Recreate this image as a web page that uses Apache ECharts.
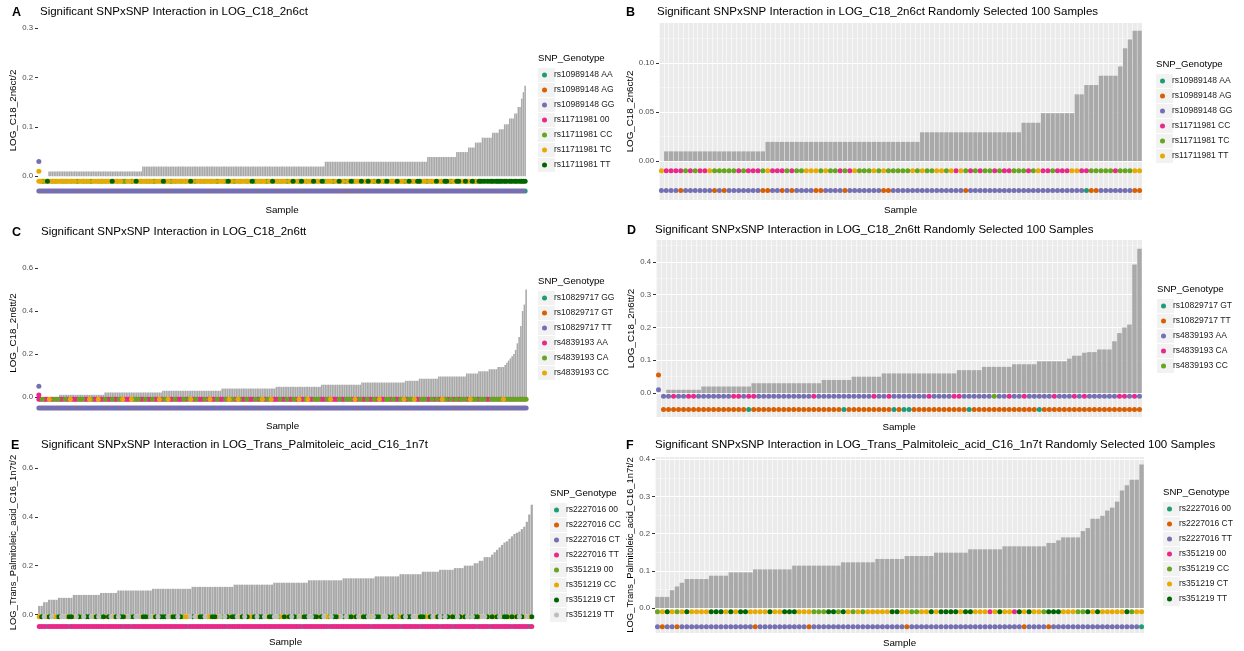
<!DOCTYPE html>
<html><head><meta charset="utf-8">
<script src="https://cdn.jsdelivr.net/npm/echarts@6/dist/echarts.min.js"></script>
<style>html,body{margin:0;padding:0;background:#fff}#c{width:1244px;height:651px}</style>
</head><body><div id="c"></div><script>
// ---------------- DATA ----------------
// Panel A
const aLegend = ['rs10989148 AA','rs10989148 AG','rs10989148 GG','rs11711981 00','rs11711981 CC','rs11711981 TC','rs11711981 TT'];
const aRuns = [[0,6],[0.0098,55],[0.0195,107],[0.0293,60],[0.039,17],[0.0488,7],[0.058,4],[0.068,4],[0.078,6],[0.088,4],[0.095,3],[0.105,3],[0.117,3],[0.127,2],[0.14,2],[0.157,1],[0.17,1],[0.183,1]];
const aRow1 = ['5544565545','4555454554','5544554545','4455545454','5546554554','4455445655','4554545445','5546455445','4554554556','5445545455',
 '5455445554','4655445545','5545564455','4554455655','4545544556','5544655455','4654556445','5544556554','4556445556','5546554456',
 '5544655455','6455445654','5566455445','4556554566','5445566455','6455644566','4656466466','6646656646','646666'].join('');
const aRow2Base = 2;
const aRow2Except = {1:[2,10,23,31,41,47,75,77,86,100,107,120,128,140,154,177,179,181,183,186,188,200,209,221,236,251,256,262,268,277,282], 0:[57,285]};
const aExtra = [[0,0.03,2],[0,0.01,5]];
// Panel B
const bLegend = ['rs10989148 AA','rs10989148 AG','rs10989148 GG','rs11711981 CC','rs11711981 TC','rs11711981 TT'];
const bRuns = [[0,1],[0.0098,21],[0.0195,32],[0.0293,21],[0.039,4],[0.0488,7],[0.068,2],[0.0775,3],[0.087,4],[0.0965,1],[0.115,1],[0.124,1],[0.133,2]];
const bRow1 = ['5333343433','5444443433','3453334344','5554544343','5444545444','4454544554','5354343443','4334443453','3433355334','4444344455'].join('');
const bRow2Base = 2;
const bRow2Except = {1:[4,11,13,21,22,25,27,32,33,38,46,47,63,89,90,98,99], 0:[88]};
// Panel C
const cLegend = ['rs10829717 GG','rs10829717 GT','rs10829717 TT','rs4839193 AA','rs4839193 CA','rs4839193 CC'];
const cRuns = [[0,12],[0.011,26],[0.022,33],[0.03,34],[0.04,31],[0.048,26],[0.058,23],[0.068,25],[0.076,8],[0.086,11],[0.096,16],[0.11,7],[0.12,6],[0.13,5],[0.14,4],
 [0.15,1],[0.16,1],[0.17,1],[0.18,1],[0.19,1],[0.2,1],[0.22,1],[0.25,1],[0.28,1],[0.33,1],[0.4,1],[0.43,1],[0.5,1]];
const cRow1 = ['3343335334','3433343353','3334343335','4333533343','3343334353','3335343433','3433343335','3343533343','3334334533','4333343353',
 '3343333435','3433543334','3333433453','3435333343','3343334335','3334533343','4333343533','3343334343','3533433343','3343353334',
 '4334333435','3343453334','3433343343','3534334334','3343433543','4334343334','3443435344','3434443434'].join('');
const cRow2Base = 2;
const cRow2Except = {1:[3,10,21,38,52,56,68,75,79,95,112,118,125,134,149,157,170,182,205,212,228,237,239,242,247,250,259,265,271,275]};
const cExtra = [[0,0.051,2],[0,0.01,3]];
// Panel D
const dLegend = ['rs10829717 GT','rs10829717 TT','rs4839193 AA','rs4839193 CA','rs4839193 CC'];
const dRuns = [[0,2],[0.01,7],[0.02,10],[0.03,14],[0.04,6],[0.05,6],[0.06,15],[0.07,5],[0.08,6],[0.088,5],[0.097,6],[0.105,1],[0.114,2],[0.123,1],[0.125,2],[0.133,3],[0.158,1],[0.183,1],[0.2,1],[0.209,1],[0.392,1],[0.44,1]];
const dRow1Base = 2;
const dRow1Except = {3:[3,6,7,15,16,18,19,31,43,46,54,59,60,70,73,79,83,85,92,93,95,99,100], 4:[67]};
const dRow2Base = 1;
const dRow2Except = {0:[18,37,47,49,50,62,76]};
const dExtra = [[0,0.055,1],[0,0.01,2]];
// Panel E
const eLegend = ['rs2227016 00','rs2227016 CC','rs2227016 CT','rs2227016 TT','rs351219 00','rs351219 CC','rs351219 CT','rs351219 TT'];
const eRuns = [[0.035,2],[0.05,2],[0.06,4],[0.068,6],[0.08,11],[0.088,7],[0.098,14],[0.105,16],[0.113,17],[0.122,16],[0.13,14],[0.14,14],[0.148,13],[0.156,10],[0.165,9],[0.175,7],[0.183,6],[0.19,4],[0.2,4],[0.21,2],[0.22,2],[0.235,3],
 [0.245,1],[0.255,1],[0.265,1],[0.275,1],[0.285,1],[0.295,1],[0.3,1],[0.31,1],[0.32,1],[0.33,1],[0.335,1],[0.34,1],[0.35,1],[0.36,1],[0.38,1],[0.41,1],[0.45,1]];
const eRow1 = ['5675675467','7566576476','6756746567','5676657467','7566475676','6675667645','5767566754','6657476566','7567654676','6756677456',
 '5676475667','7665675476','6576746567','5667576647','7656745676','6775664567','5676765647','6567476657','7656567466','5656765756'].join('');
const eRow2Base = 3;
const eRow2Except = {2:[3,12,34,37,60,76,106,117,134,146,154,162,167,177,182,191], 0:[198]};
// Panel F
const fLegend = ['rs2227016 00','rs2227016 CT','rs2227016 TT','rs351219 00','rs351219 CC','rs351219 CT','rs351219 TT'];
const fRuns = [[0.03,3],[0.048,1],[0.058,1],[0.068,1],[0.078,5],[0.087,4],[0.096,5],[0.104,8],[0.114,10],[0.123,7],[0.132,6],[0.14,6],[0.149,7],[0.158,7],[0.166,9],[0.175,2],[0.182,1],[0.19,4],[0.207,1],[0.215,1],[0.24,2],[0.248,1],[0.262,1],[0.27,1],[0.286,1],[0.316,1],[0.33,1],[0.345,2],[0.386,1]];
const fRow1 = ['4565456555','5666565665','5556556665','5544466465','4545555566','5544556566','6656655535','6553656554','6665554465','6555556455'].join('');
const fRow2Base = 2;
const fRow2Except = {1:[1,4,20,31,51,75,80], 0:[99]};

// ---------------- STYLE / BUILD ----------------
const FONT = '"Liberation Sans", Arial, Helvetica, sans-serif';
const TEAL='#1B9E77', ORANGE='#D95F02', PURPLE='#7570B3', PINK='#E7298A', GREEN='#66A61E', YELLOW='#E6AB02', DKGREEN='#006400', LGREY='#BEBEBE';

function expand(runs){const o=[];runs.forEach(r=>{for(let i=0;i<r[1];i++)o.push(r[0]);});return o;}
function strRow(s){return s.split('').map(Number);}
function excRow(n, base, exc){const a=new Array(n).fill(base);Object.keys(exc).forEach(k=>exc[k].forEach(i=>{if(i<n)a[i]=+k;}));return a;}

const option = {animation:false, backgroundColor:'#fff', textStyle:{fontFamily:FONT},
  title:[], legend:[], grid:[], xAxis:[], yAxis:[], series:[]};

function addPanel(p){
  const gi = option.grid.length;
  const values = expand(p.runs);
  const n = values.length;
  option.grid.push({left:p.box[0], top:p.box[1], width:p.box[2]-p.box[0], height:p.box[3]-p.box[1],
    show:p.grey, backgroundColor:'#EBEBEB', borderWidth:0, containLabel:false, outerBoundsMode:'none'});
  const xi = option.xAxis.length;
  option.xAxis.push({type:'category', gridIndex:gi, data:values.map((_,i)=>String(i)), boundaryGap:true,
    axisLine:{show:false,onZero:false}, axisTick:{show:false}, axisLabel:{show:false},
    splitLine:{show:p.grey, interval:0, lineStyle:{color:'#FFFFFF', width:0.6}},
    name:'Sample', nameLocation:'middle', nameGap:p.xNameGap, nameTextStyle:{fontSize:9.8, color:'#000', fontFamily:FONT}});
  const yi = option.yAxis.length;
  option.yAxis.push({type:'value', gridIndex:gi, min:p.ymin, max:p.ymax, position:'left',
    axisLine:{show:false}, axisTick:{show:true, length:3, customValues:p.ticks, lineStyle:{color:'#333333', width:1}},
    axisLabel:{customValues:p.ticks, formatter:v=>Number(v).toFixed(p.dec), fontSize:7.8, color:'#4D4D4D', margin:5, fontFamily:FONT},
    splitLine:{show:p.grey, lineStyle:{color:'#FFFFFF', width:1}},
    name:p.yName, nameLocation:'middle', nameRotate:90, nameGap:p.yNameGap, nameTextStyle:{fontSize:p.yNameSize||9.8, color:'#000', fontFamily:FONT}});
  if (p.minor){
    option.yAxis.push({type:'value', gridIndex:gi, min:p.ymin, max:p.ymax, position:'right',
      axisLine:{show:false}, axisTick:{show:false, customValues:p.minor}, axisLabel:{show:false, customValues:p.minor},
      splitLine:{show:true, lineStyle:{color:'#F7F7F7', width:0.6}}});
  }
  option.series.push({type:'bar', xAxisIndex:xi, yAxisIndex:yi, data:values, barCategoryGap:'10%',
    itemStyle:{color:'#A9A9A9'}, z:2, silent:true});
  const pts = p.legend.map(()=>[]);
  const off = p.rowStart||0;
  p.row1.forEach((k,i)=>{ if(i+off<n) pts[k].push([i+off, p.r1y]); });
  p.row2.forEach((k,i)=>{ if(i+off<n) pts[k].push([i+off, p.r2y]); });
  (p.extra||[]).forEach(e=>pts[e[2]].push([e[0], e[1]]));
  p.legend.forEach((nm,k)=>{
    option.series.push({type:'scatter', name:nm, xAxisIndex:xi, yAxisIndex:yi, data:pts[k], symbol:'circle', symbolSize:5,
      itemStyle:{color:p.colors[k], opacity:1}, z:3, silent:true});
  });
  option.title.push({text:p.letter, left:p.letterPos[0], top:p.letterPos[1], padding:0,
    textStyle:{fontSize:12.5, fontWeight:'bold', color:'#000', fontFamily:FONT}});
  option.title.push({text:p.title, left:p.titlePos[0], top:p.titlePos[1], padding:0,
    textStyle:{fontSize:11.5, fontWeight:'normal', color:'#000', fontFamily:FONT}});
  const T = p.leg[0], L = p.leg[1];
  option.title.push({text:'SNP_Genotype', left:T, top:L-15, padding:0,
    textStyle:{fontSize:9.6, fontWeight:'normal', color:'#000', fontFamily:FONT}});
  option.legend.push({left:T, top:L, orient:'vertical', icon:'rect', itemWidth:17, itemHeight:14, itemGap:1, padding:0,
    selectedMode:false, itemStyle:{color:'#F2F2F2', borderWidth:0},
    textStyle:{color:'rgba(0,0,0,0)', fontSize:8.5, lineHeight:14}, data:p.legend.slice()});
  option.legend.push({left:T+4, top:L-0.5, orient:'vertical', icon:'circle', itemWidth:9, itemHeight:5, itemGap:0, padding:0,
    selectedMode:false, textStyle:{color:'#1A1A1A', fontSize:8.5, lineHeight:15, fontFamily:FONT},
    data:p.legend.map((nm,k)=>({name:nm, itemStyle:{color:p.colors[k]}}))});
}

addPanel({letter:'A', letterPos:[12,6], title:'Significant SNPxSNP Interaction in LOG_C18_2n6ct', titlePos:[40,6],
  box:[38,25,526,196], ymin:-0.04, ymax:0.306, ticks:[0,0.1,0.2,0.3], dec:1, grey:false,
  yName:'LOG_C18_2n6ct/2', yNameGap:14, xNameGap:9,
  runs:aRuns, legend:aLegend, colors:[TEAL,ORANGE,PURPLE,PINK,GREEN,YELLOW,DKGREEN],
  row1:strRow(aRow1), row2:excRow(286,aRow2Base,aRow2Except), r1y:-0.01, r2y:-0.03, extra:aExtra, leg:[538,68]});

addPanel({letter:'B', letterPos:[626,6], title:'Significant SNPxSNP Interaction in LOG_C18_2n6ct Randomly Selected 100 Samples', titlePos:[657,6],
  box:[659,23,1142,200], ymin:-0.0398, ymax:0.1408, ticks:[0,0.05,0.1], minor:[0.025,0.075,0.125], dec:2, grey:true,
  yName:'LOG_C18_2n6ct/2', yNameGap:21, xNameGap:5,
  runs:bRuns, legend:bLegend, colors:[TEAL,ORANGE,PURPLE,PINK,GREEN,YELLOW],
  row1:strRow(bRow1), row2:excRow(100,bRow2Base,bRow2Except), r1y:-0.01, r2y:-0.03, leg:[1156,74]});

addPanel({letter:'C', letterPos:[12,226], title:'Significant SNPxSNP Interaction in LOG_C18_2n6tt', titlePos:[41,226],
  box:[38,255,527,411], ymin:-0.064, ymax:0.66, ticks:[0,0.2,0.4,0.6], dec:1, grey:false,
  yName:'LOG_C18_2n6tt/2', yNameGap:14, xNameGap:10,
  runs:cRuns, legend:cLegend, colors:[TEAL,ORANGE,PURPLE,PINK,GREEN,YELLOW],
  row1:strRow(cRow1), row2:excRow(280,cRow2Base,cRow2Except), r1y:-0.01, r2y:-0.05, extra:cExtra, leg:[538,291]});

addPanel({letter:'D', letterPos:[627,224], title:'Significant SNPxSNP Interaction in LOG_C18_2n6tt Randomly Selected 100 Samples', titlePos:[655,224],
  box:[656,240,1142,417], ymin:-0.073, ymax:0.467, ticks:[0,0.1,0.2,0.3,0.4], minor:[0.05,0.15,0.25,0.35,0.45], dec:1, grey:true,
  yName:'LOG_C18_2n6tt/2', yNameGap:18, xNameGap:5,
  runs:dRuns, legend:dLegend, colors:[TEAL,ORANGE,PURPLE,PINK,GREEN],
  row1:excRow(101,dRow1Base,dRow1Except).slice(1), row2:excRow(101,dRow2Base,dRow2Except).slice(1), rowStart:1,
  r1y:-0.01, r2y:-0.05, extra:dExtra, leg:[1157,299]});

addPanel({letter:'E', letterPos:[11,439], title:'Significant SNPxSNP Interaction in LOG_Trans_Palmitoleic_acid_C16_1n7t', titlePos:[41,439],
  box:[38,455,533,630], ymin:-0.064, ymax:0.654, ticks:[0,0.2,0.4,0.6], dec:1, grey:false,
  yName:'LOG_Trans_Palmitoleic_acid_C16_1n7t/2', yNameGap:16, yNameSize:9.4, xNameGap:7,
  runs:eRuns, legend:eLegend, colors:[TEAL,ORANGE,PURPLE,PINK,GREEN,YELLOW,DKGREEN,LGREY],
  row1:strRow(eRow1), row2:excRow(200,eRow2Base,eRow2Except), r1y:-0.01, r2y:-0.05, leg:[550,503]});

addPanel({letter:'F', letterPos:[626,439], title:'Significant SNPxSNP Interaction in LOG_Trans_Palmitoleic_acid_C16_1n7t Randomly Selected 100 Samples', titlePos:[655,439],
  box:[655,457,1144,633], ymin:-0.067, ymax:0.406, ticks:[0,0.1,0.2,0.3,0.4], minor:[0.05,0.15,0.25,0.35], dec:1, grey:true,
  yName:'LOG_Trans_Palmitoleic_acid_C16_1n7t/2', yNameGap:18, yNameSize:9.4, xNameGap:5,
  runs:fRuns, legend:fLegend, colors:[TEAL,ORANGE,PURPLE,PINK,GREEN,YELLOW,DKGREEN],
  row1:strRow(fRow1), row2:excRow(100,fRow2Base,fRow2Except), r1y:-0.01, r2y:-0.05, leg:[1163,502]});

const chart = echarts.init(document.getElementById('c'), null, {renderer:'canvas'});
chart.setOption(option);
</script></body></html>
